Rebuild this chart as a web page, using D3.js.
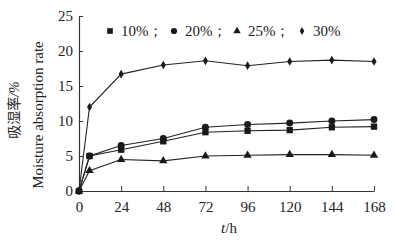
<!DOCTYPE html>
<html>
<head>
<meta charset="utf-8">
<script src="https://cdn.jsdelivr.net/npm/d3@7"></script>
<style>
  body { margin: 0; background: #fff; }
  text { font-family: "Liberation Serif", "Times New Roman", serif; fill: #222; }
</style>
</head>
<body>
<div id="plot"></div>
<script>
var w = 394;
var h = 244;
var margin = {top: 16, right: 20, bottom: 53, left: 79};

var hours = [0, 6, 24, 48, 72, 96, 120, 144, 168];
var xTicks = [0, 24, 48, 72, 96, 120, 144, 168];
var yTicks = [0, 5, 10, 15, 20, 25];

var labels = ["10%", "20%", "25%", "30%"];
var v10 = [0, 5.0, 5.9, 7.1, 8.4, 8.6, 8.7, 9.1, 9.2];
var v20 = [0, 5.0, 6.5, 7.5, 9.1, 9.5, 9.7, 10.0, 10.2];
var v25 = [0, 2.9, 4.5, 4.3, 5.0, 5.1, 5.2, 5.2, 5.1];
var v30 = [0, 12.0, 16.7, 18.0, 18.6, 17.9, 18.5, 18.7, 18.5];
var series = [v10, v20, v25, v30];

var symbols = [d3.symbolSquare, d3.symbolCircle, d3.symbolTriangle, d3.symbolDiamond];
var symSize = [40, 38, 30, 22];

var x = d3.scaleLinear().domain([0, 168]).range([margin.left, w - margin.right]);
var y = d3.scaleLinear().domain([0, 25]).range([h - margin.bottom, margin.top]);

var svg = d3.select("#plot").append("svg")
            .attr("width", w)
            .attr("height", h);

// axes, ticks pointing inside
var xAxis = d3.axisBottom(x).tickValues(xTicks).tickSizeInner(-5).tickSizeOuter(0).tickPadding(10);
var yAxis = d3.axisLeft(y).tickValues(yTicks).tickSizeInner(-4).tickSizeOuter(0).tickPadding(6);

var gx = svg.append("g")
   .attr("transform", "translate(0," + (h - margin.bottom) + ")")
   .call(xAxis);
var gy = svg.append("g")
   .attr("transform", "translate(" + margin.left + ",0)")
   .call(yAxis);

[gx, gy].forEach(function(g) {
  g.select(".domain").attr("stroke", "#333").attr("stroke-width", 1.2);
  g.selectAll(".tick line").attr("stroke", "#333");
  g.selectAll(".tick text")
   .attr("font-family", "Liberation Serif, serif")
   .attr("font-size", 15)
   .attr("fill", "#222");
});

var line = d3.line()
  .x(function(d, i) { return x(hours[i]); })
  .y(function(d) { return y(d); });

series.forEach(function(s, k) {
  svg.append("path")
     .datum(s)
     .attr("d", line)
     .attr("fill", "none")
     .attr("stroke", "#222")
     .attr("stroke-width", 1.1);

  svg.selectAll(".pt" + k)
     .data(s)
     .enter()
     .append("path")
     .attr("class", "pt" + k)
     .attr("transform", function(d, i) { return "translate(" + x(hours[i]) + "," + y(d) + ")"; })
     .attr("d", d3.symbol().type(symbols[k]).size(symSize[k]))
     .attr("fill", "#1a1a1a");
});

// legend
var legX = [110, 174, 237, 302];
labels.forEach(function(l, k) {
  svg.append("path")
     .attr("transform", "translate(" + legX[k] + ",31)")
     .attr("d", d3.symbol().type(symbols[k]).size(symSize[k] * 0.8))
     .attr("fill", "#1a1a1a");
  svg.append("text")
     .attr("x", legX[k] + 11)
     .attr("y", 36)
     .attr("font-size", 15)
     .text(l + (k < 3 ? "；" : ""));
});

// axis titles
var xt = svg.append("text")
   .attr("x", 229)
   .attr("y", 233)
   .attr("text-anchor", "middle")
   .attr("font-size", 15);
xt.append("tspan").attr("font-style", "italic").text("t");
xt.append("tspan").text("/h");

var yt = svg.append("text")
   .attr("transform", "translate(19,110) rotate(-90)")
   .attr("text-anchor", "middle")
   .attr("font-size", 14);
yt.append("tspan").attr("font-family", "Noto Sans CJK SC, serif").text("吸湿率");
yt.append("tspan").attr("font-style", "italic").text("/%");

svg.append("text")
   .attr("transform", "translate(43,115) rotate(-90)")
   .attr("text-anchor", "middle")
   .attr("font-size", 15)
   .text("Moisture absorption rate");
</script>
</body>
</html>
